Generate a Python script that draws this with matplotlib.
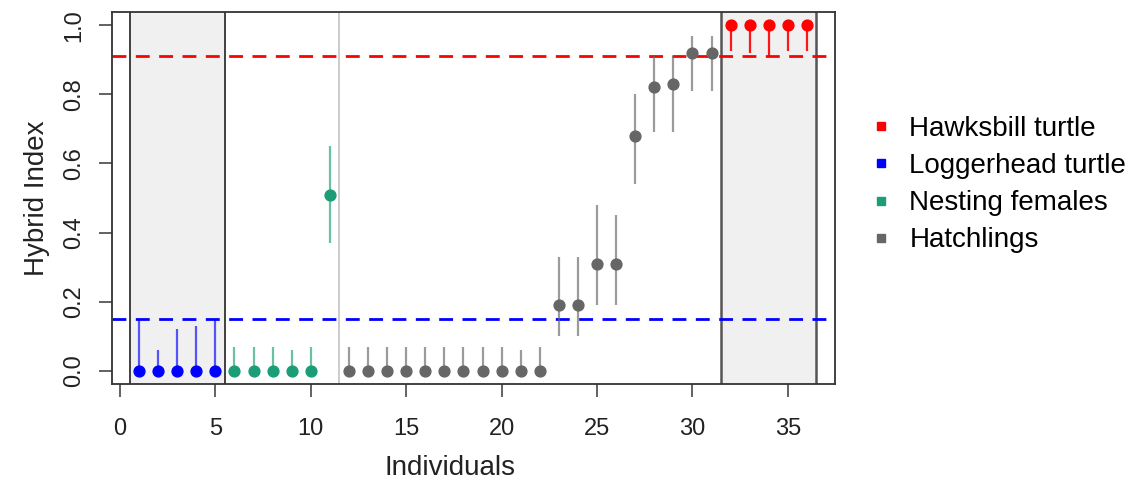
import numpy as np
import matplotlib.pyplot as plt
from matplotlib.patches import Rectangle
from matplotlib.lines import Line2D

plt.rcParams['font.family'] = ['Liberation Sans', 'DejaVu Sans']

# individuals 1..36 with hybrid index and credible interval
individuals = np.arange(1, 37)
groups = (['Loggerhead'] * 5 + ['Nesting'] * 6 + ['Hatchling'] * 20 + ['Hawksbill'] * 5)
hybrid_index = [0, 0, 0, 0, 0,
                0, 0, 0, 0, 0, 0.51,
                0, 0, 0, 0, 0, 0, 0, 0, 0, 0, 0,
                0.19, 0.19, 0.31, 0.31, 0.68, 0.82, 0.83, 0.92, 0.92,
                1.0, 1.0, 1.0, 1.0, 1.0]
ci_lower = [0, 0, 0, 0, 0,
            0, 0, 0, 0, 0, 0.37,
            0, 0, 0, 0, 0, 0, 0, 0, 0, 0, 0,
            0.10, 0.10, 0.19, 0.19, 0.54, 0.69, 0.69, 0.81, 0.81,
            0.925, 0.92, 0.91, 0.925, 0.925]
ci_upper = [0.15, 0.06, 0.12, 0.13, 0.15,
            0.07, 0.07, 0.07, 0.06, 0.07, 0.65,
            0.07, 0.07, 0.07, 0.07, 0.07, 0.07, 0.07, 0.07, 0.07, 0.06, 0.07,
            0.33, 0.33, 0.48, 0.45, 0.80, 0.91, 0.91, 0.97, 0.97,
            1.0, 1.0, 1.0, 1.0, 1.0]

hawksbill_ref = 0.91
loggerhead_ref = 0.15

colors = {'Hawksbill': '#FF0000', 'Loggerhead': '#0000FF',
          'Nesting': '#1B9E77', 'Hatchling': '#666666'}
legend_labels = ['Hawksbill turtle', 'Loggerhead turtle', 'Nesting females', 'Hatchlings']
legend_keys = ['Hawksbill', 'Loggerhead', 'Nesting', 'Hatchling']

fig = plt.figure(figsize=(11.32, 4.82), dpi=100)
ax = fig.add_axes([0.0989, 0.2033, 0.6387, 0.7717])

# shaded reference blocks
ax.add_patch(Rectangle((0.5, -0.1), 5, 1.3, facecolor='#F0F0F0', edgecolor='#333333', lw=1.3, zorder=0))
ax.add_patch(Rectangle((31.5, -0.1), 5, 1.3, facecolor='#F0F0F0', edgecolor='#555555', lw=1.8, zorder=0))
ax.axvline(11.5, color='#C8C8C8', lw=1.3, zorder=0)

ax.axhline(hawksbill_ref, color='#FF0000', ls=(0, (5, 3.4)), lw=2, zorder=1)
ax.axhline(loggerhead_ref, color='#0000FF', ls=(0, (5, 3.4)), lw=2, zorder=1)

for x, y, lo, hi, g in zip(individuals, hybrid_index, ci_lower, ci_upper, groups):
    c = colors[g]
    ax.plot([x, x], [lo, hi], color=c, lw=1.6, alpha=0.65 if g != 'Hawksbill' else 0.9,
            solid_capstyle='butt', zorder=2)
    ax.plot(x, y, 'o', color=c, ms=7.8, mec=c, zorder=3)

ax.set_xlim(-0.42, 37.47)
ax.set_ylim(-0.038, 1.038)
ax.set_xticks([0, 5, 10, 15, 20, 25, 30, 35])
ax.set_yticks([0.0, 0.2, 0.4, 0.6, 0.8, 1.0])
ax.set_yticklabels(['0.0', '0.2', '0.4', '0.6', '0.8', '1.0'], rotation=90, va='center')
ax.tick_params(axis='both', labelsize=17, length=9.5, width=1.3, color='#555555',
               labelcolor='#222222')
ax.tick_params(axis='x', pad=15)
ax.tick_params(axis='y', pad=9.5)
for s in ax.spines.values():
    s.set_color('#333333')
    s.set_linewidth(1.3)

ax.set_xlabel('Individuals', fontsize=20, color='#222222')
ax.xaxis.set_label_coords(0.4675, -0.19)
ax.set_ylabel('Hybrid Index', fontsize=20, color='#222222', labelpad=10)

handles = [Line2D([], [], marker='s', ls='', color=colors[k], ms=5.5) for k in legend_keys]
fig.legend(handles, legend_labels, loc='upper left', bbox_to_anchor=(0.7465, 0.811),
           frameon=False, fontsize=20, handletextpad=0.62, labelspacing=0.4,
           handlelength=0.8)

fig.savefig('out.png', dpi=100)
